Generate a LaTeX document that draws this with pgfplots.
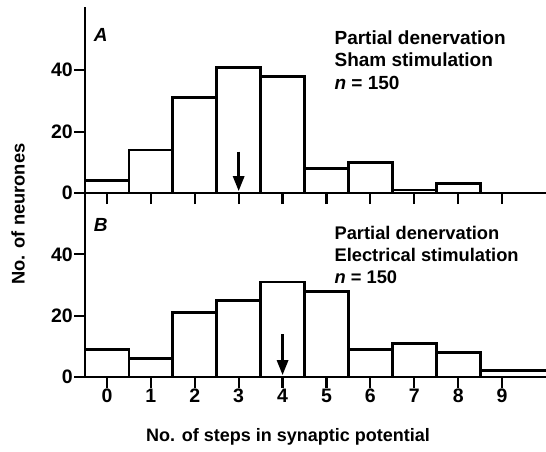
\documentclass[border=0pt]{standalone}
\usepackage{fontspec}
\setmainfont{Liberation Sans}
\usepackage{pgfplots}
\pgfplotsset{compat=1.18}
\usetikzlibrary{arrows.meta}

% bin counts (bins 0..9), left edges at k-0.5
\pgfplotsset{
  histo/.style={
    anchor=south west, scale only axis,
    width=461pt, height=184pt,
    xmin=-0.5, xmax=10, ymin=0, ymax=60,
    axis x line*=bottom, axis y line*=left,
    axis line style={line width=2.6pt},
    xtick={0,...,9}, ytick={0,20,40},
    tick align=outside, major tick length=11pt,
    tick style={line width=2.2pt, black},
    /pgf/number format/assume math mode=true,
    ticklabel style={font=\fontsize{19.5}{20}\selectfont\bfseries},
    yticklabel style={inner sep=1pt},
    xticklabel style={inner sep=0pt, yshift=-1pt},
  },
  bars/.style={ybar interval, fill=white, draw=black, line width=2.8pt},
  meanarrow/.style={line width=2.8pt, -{Triangle[length=15pt,width=11pt]}},
}

\begin{document}
\begin{tikzpicture}[x=1pt,y=1pt]
\path[use as bounding box] (0,0) rectangle (546,451);

% panel B (bottom)
\begin{axis}[histo, at={(85pt,74pt)}]
\addplot[bars] coordinates {
  (-0.5,9) (0.5,6) (1.5,21) (2.5,25) (3.5,31) (4.5,28)
  (5.5,9) (6.5,11) (7.5,8) (8.5,2) (10.5,0)
};
\addplot[meanarrow] coordinates {(4,14) (4,0.6)};
\node[font=\fontsize{19}{20}\selectfont\bfseries\itshape] at (axis cs:-0.14,49.6) {B};
\node[anchor=north west, align=left, inner sep=0pt, font=\fontsize{18.3}{21.8}\selectfont\bfseries]
  at (axis cs:5.18,49.2) {Partial denervation\\Electrical stimulation\\\textit{n} = 150};
\end{axis}

% panel A (top)
\begin{axis}[histo, at={(85pt,258pt)}, height=186pt, ymax=60.6, xticklabels={}]
\addplot[bars] coordinates {
  (-0.5,4) (0.5,14) (1.5,31) (2.5,41) (3.5,38) (4.5,8)
  (5.5,10) (6.5,1) (7.5,3) (8.5,0)
};
\addplot[meanarrow] coordinates {(3,13.5) (3,0.6)};
\node[font=\fontsize{19}{20}\selectfont\bfseries\itshape] at (axis cs:-0.14,51.5) {A};
\node[anchor=north west, align=left, inner sep=0pt, font=\fontsize{19}{22.3}\selectfont\bfseries]
  at (axis cs:5.18,52.9) {Partial denervation\\Sham stimulation\\\textit{n} = 150};
\end{axis}

\node[font=\fontsize{18}{20}\selectfont\bfseries] at (288,14) {No. of steps in synaptic potential};
\node[rotate=90, font=\fontsize{18.3}{20}\selectfont\bfseries] at (18,237) {No. of neurones};
\end{tikzpicture}
\end{document}
